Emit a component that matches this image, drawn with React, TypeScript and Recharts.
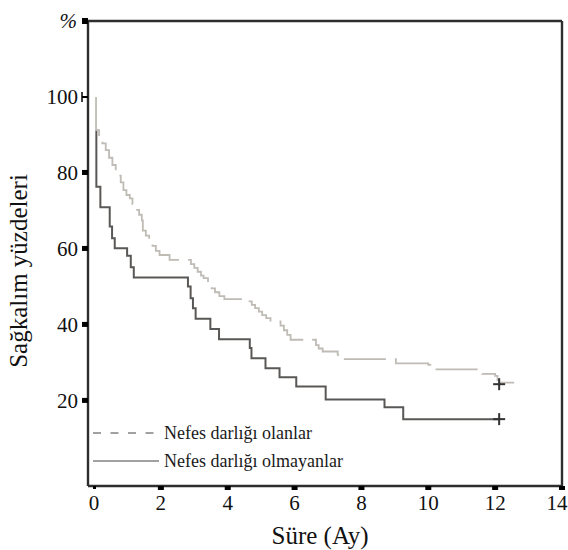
import React from 'react';
import { ComposedChart, Line, Scatter, XAxis, YAxis, ReferenceLine, Legend } from 'recharts';

// Nefes darlığı olanlar (dashed, light gray)
const olanlarT = [0.06, 0.06, 0.15, 0.25, 0.35, 0.45, 0.55, 0.65, 0.72, 0.8, 0.88, 0.97, 1.07, 1.15, 1.25, 1.35, 1.43, 1.46, 1.55, 1.65, 1.75, 1.85, 1.96, 2.26, 2.9, 3.0, 3.1, 3.2, 3.28, 3.41, 3.52, 3.62, 3.75, 3.9, 4.61, 4.72, 4.82, 4.93, 5.03, 5.15, 5.28, 5.58, 5.68, 5.78, 5.88, 6.64, 6.72, 6.84, 7.29, 7.45, 9.03, 10.0, 10.18, 11.61, 12.0, 12.07, 12.12, 12.57];
const olanlarV = [100, 91.3, 89.5, 87.8, 86, 84, 82.1, 80.5, 79.3, 77.5, 75.5, 74.2, 73.3, 71.8, 70.3, 69, 67.5, 64.8, 63.5, 62.2, 60.8, 59.5, 58.4, 57.1, 56, 55, 54, 53, 52.3, 50.5, 49.6, 48.6, 47.6, 46.8, 46.2, 45.3, 44.4, 43.5, 42.6, 41.8, 40.9, 39.8, 38.6, 37.4, 36.1, 34.7, 33.8, 33, 32.1, 31, 29.9, 29.5, 28.3, 27.1, 26.6, 25.5, 24.8, 24.8];

// Nefes darlığı olmayanlar (solid, dark gray)
const olmayanlarT = [0.06, 0.07, 0.19, 0.47, 0.54, 0.62, 0.99, 1.1, 1.19, 2.81, 2.89, 2.96, 3.04, 3.48, 3.74, 4.66, 4.71, 5.13, 5.55, 6.05, 6.93, 8.69, 9.25, 12.12];
const olmayanlarV = [91.3, 76.4, 71, 65.9, 62.8, 60.2, 58.2, 55.2, 52.5, 50.1, 47, 44.4, 41.6, 38.9, 36.2, 33.9, 31.2, 28.6, 26.2, 23.8, 20.4, 18.3, 15.2, 15.2];

// Censored marks (+)
const censorT = [12.12, 12.12];
const censorV = [24.4, 15.2];

const xTicks = [0, 2, 4, 6, 8, 10, 12, 14];
const yTicks = [20, 40, 60, 80, 100, 120];

const legendLabels = ['Nefes darlığı olanlar', 'Nefes darlığı olmayanlar'];
const xLabel = 'Süre (Ay)';
const yLabel = 'Sağkalım yüzdeleri';

const olanlarData = olanlarT.map((t, i) => ({ t, v: olanlarV[i] }));
const olmayanlarData = olmayanlarT.map((t, i) => ({ t, v: olmayanlarV[i] }));
const censorData = censorT.map((t, i) => ({ t, v: censorV[i] }));

const FONT = "Liberation Serif, Times New Roman, Tinos, DejaVu Serif, serif";
const AXIS = '#2e2e2e';
const GRAY = '#bfbbb5';
const DARK = '#5a5856';

const YTick = (props: any) => {
  const { x, y, payload } = props;
  const v = payload.value;
  if (v === 120) {
    return (
      <g>
        <rect x={x - 6} y={y - 3} width={6} height={6} fill="#000" />
        <text x={x - 11} y={y + 7} textAnchor="end" style={{ fontFamily: FONT }} fontSize={21} fontStyle="italic" fill="#111">%</text>
      </g>
    );
  }
  return (
    <g>
      {v === 100 ? (
        <g>
          <line x1={x - 6} y1={y - 5} x2={x - 6} y2={y + 5} stroke="#000" strokeWidth={1.5} />
          <line x1={x - 6} y1={y} x2={x} y2={y} stroke="#000" strokeWidth={2} />
        </g>
      ) : (
        <rect x={x - 6} y={y - 3} width={6} height={5} fill="#000" />
      )}
      <text x={x - 10} y={y + 7} textAnchor="end" style={{ fontFamily: FONT }} fontSize={21} fill="#111">{v}</text>
    </g>
  );
};

const XTick = (props: any) => {
  const { x, y, payload } = props;
  const v = payload.value;
  return (
    <g>
      {v === 0 ? (
        <rect x={x - 1} y={y} width={3} height={3} fill="#000" />
      ) : (
        <rect x={x - 3} y={y} width={6} height={4} fill="#000" />
      )}
      <text x={v === 14 ? x - 5 : x} y={y + 24} textAnchor="middle" style={{ fontFamily: FONT }} fontSize={21} fill="#111">{v}</text>
    </g>
  );
};

const Cross = (props: any) => {
  const { cx, cy } = props;
  if (cx == null || cy == null) return null;
  return (
    <g>
      <line x1={cx - 6} y1={cy} x2={cx + 6} y2={cy} stroke="#333" strokeWidth={2} />
      <line x1={cx} y1={cy - 6} x2={cx} y2={cy + 6} stroke="#333" strokeWidth={2} />
    </g>
  );
};

const LegendContent = () => (
  <div style={{ fontFamily: FONT, fontSize: 18, color: '#1a1a1a' }}>
    {legendLabels.map((lab, i) => (
      <div key={lab} style={{ display: 'flex', alignItems: 'center', height: 28, whiteSpace: 'nowrap' }}>
        <svg width={71} height={10} style={{ display: 'block' }}>
          <line x1={0} y1={5} x2={i === 0 ? 61 : 66} y2={5} stroke="#444" strokeWidth={1.2} strokeDasharray={i === 0 ? '8 9.5' : undefined} />
        </svg>
        <span>{lab}</span>
      </div>
    ))}
  </div>
);

const YLabel = () => {
  const cx = 18;
  const cy = 271;
  return (
    <text x={cx} y={cy} transform={`rotate(-90 ${cx} ${cy})`} textAnchor="middle" dominantBaseline="central" style={{ fontFamily: FONT }} fontSize={25} fill="#111">{yLabel}</text>
  );
};

const XLabel = () => (
  <text x={320} y={544} textAnchor="middle" style={{ fontFamily: FONT }} fontSize={25} fill="#111">{xLabel}</text>
);

export default function App() {
  return (
    <div style={{ position: 'absolute', left: 0, top: 0, width: 568, height: 550, background: '#fff', fontFamily: FONT }}>
      <ComposedChart width={568} height={550} margin={{ top: 21, right: 6, bottom: 0, left: 0 }}>
        <XAxis
          dataKey="t"
          type="number"
          domain={[-0.18, 14]}
          ticks={xTicks}
          allowDataOverflow
          height={64}
          tickSize={0}
          tickMargin={0}
          tickLine={false}
          tick={<XTick />}
          axisLine={{ stroke: AXIS, strokeWidth: 2.4 }}
          label={<XLabel />}
          interval={0}
        />
        <YAxis
          dataKey="v"
          type="number"
          domain={[-2.4, 120]}
          ticks={yTicks}
          allowDataOverflow
          width={88}
          tickSize={0}
          tickMargin={0}
          tickLine={false}
          tick={<YTick />}
          axisLine={{ stroke: AXIS, strokeWidth: 2.4 }}
          label={<YLabel />}
          interval={0}
        />
        <ReferenceLine y={120} stroke={AXIS} strokeWidth={2.4} />
        <ReferenceLine x={14} stroke={AXIS} strokeWidth={2.4} />
        <Line
          data={olmayanlarData}
          dataKey="v"
          type="stepAfter"
          stroke={DARK}
          strokeWidth={2}
          dot={false}
          activeDot={false}
          isAnimationActive={false}
          name={legendLabels[1]}
        />
        <Line
          data={olanlarData}
          dataKey="v"
          type="stepAfter"
          stroke={GRAY}
          strokeWidth={1.8}
          strokeDasharray="42 9"
          dot={false}
          activeDot={false}
          isAnimationActive={false}
          name={legendLabels[0]}
        />
        <Scatter data={censorData} dataKey="v" shape={<Cross />} isAnimationActive={false} />
        <Legend
          layout="vertical"
          align="center"
          verticalAlign="middle"
          content={<LegendContent />}
          wrapperStyle={{ left: 93, top: 419, width: 'auto' }}
        />
      </ComposedChart>
    </div>
  );
}
